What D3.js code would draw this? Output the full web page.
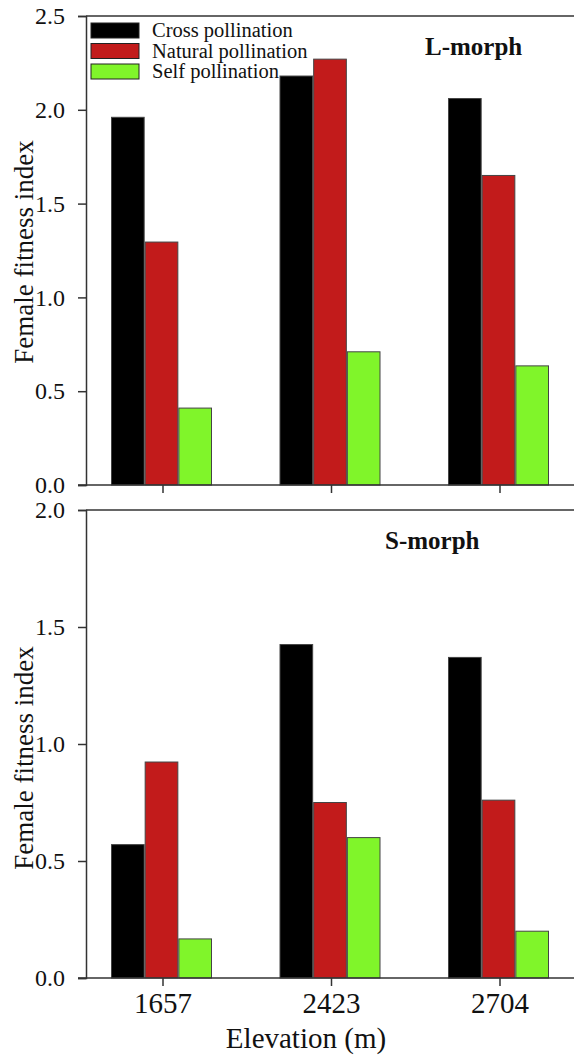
<!DOCTYPE html>
<html>
<head>
<meta charset="utf-8">
<script src="https://cdn.jsdelivr.net/npm/d3@7"></script>
<style>
	body { margin: 0; background: #fff; }
	svg text { font-family: "Liberation Serif", "Times New Roman", serif; fill: #111; }
</style>
</head>
<body>
<svg id="chart"></svg>
<script>
var elevations = ["1657", "2423", "2704"];
var series = ["Cross pollination", "Natural pollination", "Self pollination"];
var colors = ["#000000", "#c21b1b", "#80f52a"];

// L-morph values, one array per series, in elevation order
var l_cross = [1.96, 2.18, 2.06];
var l_natural = [1.295, 2.27, 1.65];
var l_self = [0.41, 0.71, 0.635];

// S-morph values
var s_cross = [0.57, 1.425, 1.37];
var s_natural = [0.923, 0.75, 0.76];
var s_self = [0.167, 0.6, 0.2];

var l_ticks = [0.0, 0.5, 1.0, 1.5, 2.0, 2.5];
var s_ticks = [0.0, 0.5, 1.0, 1.5, 2.0];

var width = 574, height = 1055;
var serif = "'Liberation Serif', 'Times New Roman', serif";
var svg = d3.select("#chart")
	.attr("width", width)
	.attr("height", height)
	.attr("font-family", serif);

var left = 86, right = 600;
var line_col = "#333";

var x = d3.scaleBand()
	.domain(elevations)
	.range([78.75, 584.25]);
var x_inner = d3.scaleBand()
	.domain(series)
	.range([-51.5, 49.5]);

function plot_panel(top, bottom, ymax, ticks, vals, title, title_x, title_y, label_y, show_x_labels)
{
	var y = d3.scaleLinear()
		.domain([0, ymax])
		.range([bottom, top]);

	var rows = [];
	elevations.forEach(function(e, i)
	{
		series.forEach(function(s, j)
		{
			rows.push({ elev: e, series: s, value: vals[j][i], color: colors[j] });
		});
	});

	var g = svg.append("g");

	g.selectAll(".bar")
		.data(rows)
		.enter()
		.append("rect")
		.attr("class", "bar")
		.attr("x", function(d) { return x(d.elev) + x.bandwidth() / 2 + x_inner(d.series); })
		.attr("y", function(d) { return y(d.value); })
		.attr("width", x_inner.bandwidth() - 1)
		.attr("height", function(d) { return bottom - y(d.value); })
		.style("fill", function(d) { return d.color; })
		.style("stroke", "#444")
		.style("stroke-width", 1);

	// frame top line
	g.append("line")
		.attr("x1", left)
		.attr("x2", right)
		.attr("y1", top)
		.attr("y2", top)
		.style("stroke", line_col)
		.style("stroke-width", 1.5);

	var yAxis = d3.axisLeft(y)
		.tickValues(ticks)
		.tickFormat(d3.format(".1f"))
		.tickSizeOuter(0)
		.tickSize(8)
		.tickPadding(13);
	var ya = g.append("g")
		.attr("transform", "translate(" + left + ",0)")
		.call(yAxis)
		.attr("font-family", null)
		.attr("font-size", null);
	ya.selectAll("line, path").style("stroke", line_col).style("stroke-width", 1.5);
	ya.selectAll("text").style("font-size", "24px").style("font-family", serif).attr("fill", "#111");

	var xAxis = d3.axisBottom(x)
		.tickSizeOuter(0)
		.tickSize(8)
		.tickPadding(6);
	var xa = g.append("g")
		.attr("transform", "translate(0," + bottom + ")")
		.call(xAxis)
		.attr("font-family", null)
		.attr("font-size", null);
	xa.select(".domain").attr("d", "M" + (left - 8) + ",0H" + right);
	xa.selectAll("line, path").style("stroke", line_col).style("stroke-width", 1.5);
	xa.selectAll("text")
		.style("font-size", "29px")
		.style("font-family", serif)
		.attr("fill", "#111")
		.style("display", show_x_labels ? null : "none");

	g.append("text")
		.attr("x", title_x)
		.attr("y", title_y)
		.style("font-size", "25px")
		.style("font-weight", "bold")
		.text(title);

	g.append("text")
		.attr("transform", "translate(33," + label_y + ") rotate(-90)")
		.style("text-anchor", "middle")
		.style("font-size", "27px")
		.text("Female fitness index");
}

plot_panel(16, 485, 2.5, l_ticks, [l_cross, l_natural, l_self], "L-morph", 425, 55, 252, false);
plot_panel(510, 978, 2.0, s_ticks, [s_cross, s_natural, s_self], "S-morph", 385, 549, 758, true);

// legend
var legend = svg.append("g");
series.forEach(function(s, i)
{
	legend.append("rect")
		.attr("x", 91)
		.attr("y", 23 + i * 20.5)
		.attr("width", 48)
		.attr("height", 15)
		.style("fill", colors[i])
		.style("stroke", "#222")
		.style("stroke-width", 1);
	legend.append("text")
		.attr("x", 152)
		.attr("y", 37 + i * 20.5)
		.style("font-size", "20.5px")
		.text(s);
});

svg.append("text")
	.attr("x", 306)
	.attr("y", 1048)
	.style("text-anchor", "middle")
	.style("font-size", "29px")
	.text("Elevation (m)");
</script>
</body>
</html>
